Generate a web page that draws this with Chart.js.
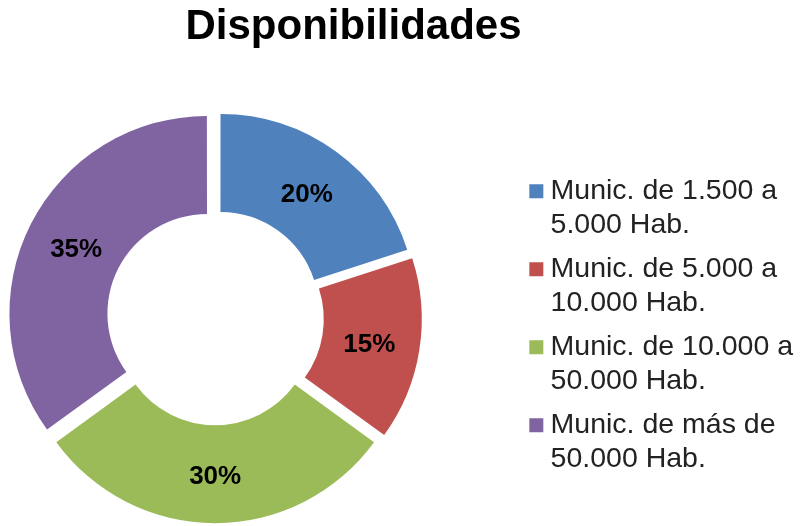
<!DOCTYPE html>
<html>
<head>
<meta charset="utf-8">
<script src="https://cdn.jsdelivr.net/npm/chart.js@4.4.0/dist/chart.umd.min.js"></script>
<style>
  html, body { margin: 0; padding: 0; background: #fff; overflow: hidden; }
  #wrap { position: relative; width: 800px; height: 526px; overflow: hidden; }
  /* canvas shifted left so the ring sits left of the title centre */
  #myChart { position: absolute; left: -96px; top: 0; }
</style>
</head>
<body>
<div id="wrap"><canvas id="myChart" width="899" height="526"></canvas></div>
<script>
const categories = [
  ['Munic. de 1.500 a', '5.000 Hab.'],
  ['Munic. de 5.000 a', '10.000 Hab.'],
  ['Munic. de 10.000 a', '50.000 Hab.'],
  ['Munic. de más de', '50.000 Hab.']
];
const shares = [20, 15, 30, 35];
const sliceColors = ['#4F81BD', '#C0504D', '#9BBB59', '#8064A2'];

// percent labels in the middle of each slice
const sliceLabels = {
  id: 'sliceLabels',
  afterDatasetsDraw(chart) {
    const ctx = chart.ctx;
    const meta = chart.getDatasetMeta(0);
    ctx.save();
    ctx.font = 'bold 26px "Liberation Sans"';
    ctx.fillStyle = '#000';
    ctx.textAlign = 'center';
    ctx.textBaseline = 'middle';
    meta.data.forEach((arc, i) => {
      const p = arc.getProps(['x', 'y', 'startAngle', 'endAngle', 'innerRadius', 'outerRadius']);
      const mid = (p.startAngle + p.endAngle) / 2;
      const r = (p.innerRadius + p.outerRadius) / 2 + arc.options.offset / 4;
      ctx.fillText(shares[i] + '%', p.x + Math.cos(mid) * r, p.y + Math.sin(mid) * r + 3);
    });
    ctx.restore();
  }
};

const ctx = document.getElementById('myChart').getContext('2d');
const myChart = new Chart(ctx, {
  type: 'doughnut',
  data: {
    labels: categories,
    datasets: [{
      data: shares,
      backgroundColor: sliceColors,
      borderWidth: 0,
      offset: 36,
      clip: false
    }]
  },
  options: {
    responsive: false,
    animation: false,
    radius: 196,
    cutout: '50%',
    layout: { padding: { left: 0, right: 0, top: 0, bottom: 37 } },
    plugins: {
      title: {
        display: true,
        text: 'Disponibilidades',
        color: '#000',
        font: { family: '"Liberation Sans"', size: 42, weight: 'bold', lineHeight: 1.2 },
        padding: { top: 2, bottom: 94 }
      },
      legend: {
        position: 'right',
        align: 'end',
        labels: {
          usePointStyle: true,
          pointStyle: 'rect',
          boxWidth: 0.01,
          boxHeight: 14,
          padding: 10,
          color: '#222',
          font: { family: '"Liberation Sans"', size: 28.5, lineHeight: '34px' }
        }
      },
      tooltip: { enabled: false }
    }
  },
  plugins: [sliceLabels]
});
</script>
</body>
</html>
